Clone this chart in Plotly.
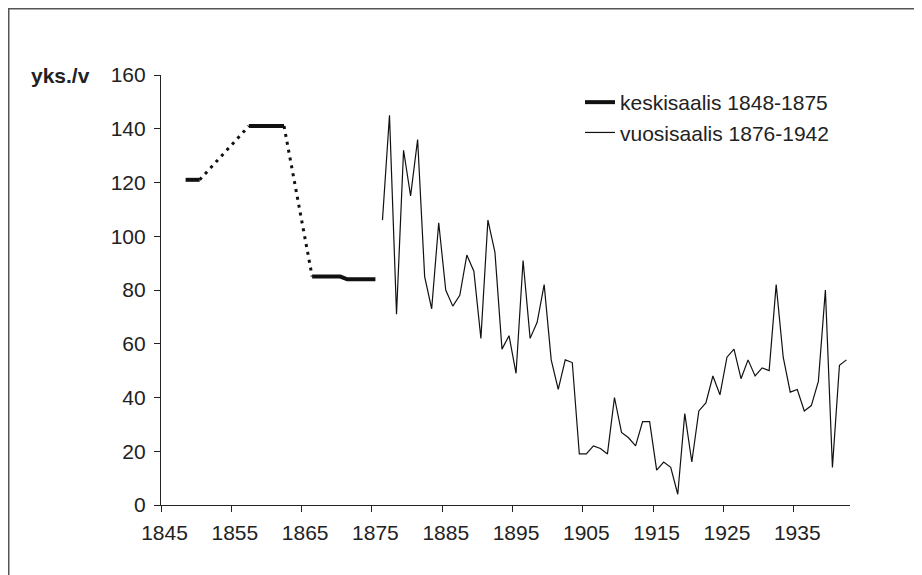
import plotly.graph_objects as go

# ---- data ----
mean_years = list(range(1848, 1876))
mean_values = [121, 121, 121,
               None, None, None, None, None, None,
               141, 141, 141, 141, 141, 141,
               None, None, None,
               85, 85, 85, 85, 85,
               84, 84, 84, 84, 84]

annual_years = list(range(1876, 1943))
annual_values = [106, 145, 71, 132, 115, 136, 85, 73, 105, 80,
                 74, 78, 93, 87, 62, 106, 94, 58, 63, 49,
                 91, 62, 68, 82, 54, 43, 54, 53, 19, 19,
                 22, 21, 19, 40, 27, 25, 22, 31, 31, 13,
                 16, 14, 4, 34, 16, 35, 38, 48, 41, 55,
                 58, 47, 54, 48, 51, 50, 82, 55, 42, 43,
                 35, 37, 46, 80, 14, 52, 54]

x_tick_labels = ["1845", "1855", "1865", "1875", "1885", "1895",
                 "1905", "1915", "1925", "1935"]
y_ticks = [0, 20, 40, 60, 80, 100, 120, 140, 160]

name_mean = "keskisaalis 1848-1875"
name_annual = "vuosisaalis 1876-1942"
y_label = "yks./v"

# dotted connectors across the gaps of the mean series
conn_x, conn_y = [], []
last = None
for yr, v in zip(mean_years, mean_values):
    if v is None:
        continue
    if last is not None and yr - last[0] > 1:
        conn_x += [last[0], yr, None]
        conn_y += [last[1], v, None]
    last = (yr, v)

FONT = "Liberation Sans, Arial, sans-serif"
INK = "#222222"

fig = go.Figure()
fig.add_trace(go.Scatter(x=conn_x, y=conn_y, mode="lines",
                         line=dict(color="#111111", width=3, dash="3px,5px"),
                         showlegend=False, hoverinfo="skip"))
fig.add_trace(go.Scatter(x=mean_years, y=mean_values, mode="lines",
                         name=name_mean, connectgaps=False,
                         line=dict(color="#111111", width=4)))
fig.add_trace(go.Scatter(x=annual_years, y=annual_values, mode="lines",
                         name=name_annual,
                         line=dict(color="#111111", width=1.2)))

# page offset of the plot div (default body margin)
OFF = 8
W, H = 914, 567
L, T = 161 - OFF, 75 - OFF
R = W - (850 - OFF)
B = H - (505 - OFF)
pw, ph = W - L - R, H - T - B


def px_x(p):
    """page x -> paper"""
    return (p - OFF - L) / pw


def px_y(p):
    """page y -> paper"""
    return (H - B - (p - OFF)) / ph


tickvals = [int(t) for t in x_tick_labels]
fig.update_layout(
    width=W, height=H,
    margin=dict(l=L, r=R, t=T, b=B),
    paper_bgcolor="white", plot_bgcolor="white",
    font=dict(family=FONT, size=21, color=INK),
    xaxis=dict(range=[1844.5, 1942.5], showgrid=False, zeroline=False,
               showline=True, linecolor=INK, linewidth=1.2,
               tickmode="array", tickvals=tickvals, ticktext=x_tick_labels,
               ticks="", ticklen=0, ticklabelstandoff=9,
               minor=dict(tickmode="array",
                          tickvals=[t - 0.5 for t in tickvals],
                          ticks="outside", ticklen=6, tickcolor=INK,
                          tickwidth=1.2, showgrid=False),
               tickfont=dict(family=FONT, size=21, color=INK)),
    yaxis=dict(range=[0, 160], showgrid=False, zeroline=False,
               showline=True, linecolor=INK, linewidth=1.2,
               tickmode="array", tickvals=y_ticks,
               ticks="outside", ticklen=6, tickcolor=INK, tickwidth=1.2,
               ticklabelstandoff=4,
               tickfont=dict(family=FONT, size=21, color=INK)),
    legend=dict(x=px_x(580), y=px_y(82), xanchor="left", yanchor="top",
                bgcolor="rgba(0,0,0,0)", font=dict(family=FONT, size=21, color=INK),
                itemwidth=30, tracegroupgap=0),
    showlegend=True,
)

fig.add_annotation(x=px_x(92), y=160, xref="paper", yref="y",
                   text="<b>" + y_label + "</b>", showarrow=False,
                   xanchor="right", yanchor="middle",
                   font=dict(family=FONT, size=21, color=INK))

# outer chart frame (left and top edges visible)
fig.add_shape(type="rect", xref="paper", yref="paper",
              x0=px_x(OFF + 0.75), x1=px_x(940), y0=px_y(600), y1=px_y(OFF + 0.75),
              line=dict(color="#555555", width=1.5), fillcolor="rgba(0,0,0,0)",
              layer="below")

fig.write_html("out.html")
